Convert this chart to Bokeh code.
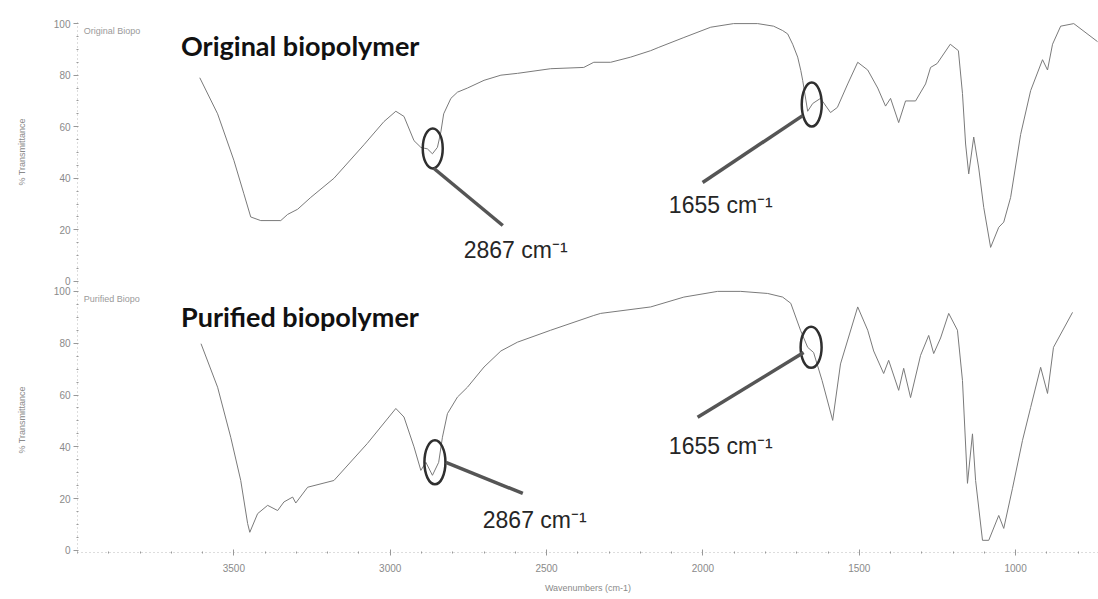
from bokeh.plotting import figure
from bokeh.layouts import column
from bokeh.models import Range1d, FixedTicker, Label
from bokeh.embed import file_html
from bokeh.resources import INLINE

# FTIR spectra: wavenumber (cm-1) and % transmittance
orig_wn = [3609, 3552, 3500, 3468, 3446, 3414, 3350, 3328, 3296, 3254, 3180, 3084, 3020,
           2982, 2956, 2924, 2902, 2881, 2865, 2849, 2838, 2829, 2806, 2785, 2753, 2700,
           2646, 2593, 2487, 2381, 2349, 2295, 2231, 2167, 2141, 2061, 1975, 1902, 1825,
           1774, 1745, 1729, 1713, 1697, 1687, 1681, 1665, 1649, 1624, 1592, 1570, 1537,
           1505, 1473, 1441, 1416, 1400, 1374, 1352, 1320, 1288, 1272, 1251, 1209, 1183,
           1170, 1160, 1150, 1134, 1118, 1102, 1080, 1054, 1038, 1016, 984, 952, 914, 898,
           882, 856, 814, 738]
orig_t = [79, 65, 47, 34, 25, 23.6, 23.6, 26, 28, 32.6, 40, 53, 62,
          66, 64, 54.6, 52, 51.4, 49.5, 52, 58, 65, 71, 73.4, 75, 78,
          80, 80.7, 82.5, 83, 85, 85, 87, 89.5, 90.8, 94.6, 98.6, 100, 100,
          99, 97.3, 96, 92, 87, 81.8, 78, 66, 69, 71, 65.5, 67.5, 76.6,
          85, 82, 75, 68, 71, 61.6, 70, 70, 76.6, 83, 84.5, 92, 89.5,
          72.9, 53.3, 41.7, 56, 44, 28.7, 13.2, 21, 23, 32.6, 57, 74, 86, 82,
          92, 99, 100, 93]

pur_wn = [3605, 3552, 3510, 3478, 3456, 3449, 3424, 3392, 3360, 3340, 3312, 3302, 3264,
          3180, 3073, 2982, 2956, 2924, 2902, 2886, 2865, 2845, 2833, 2817, 2785, 2753,
          2700, 2646, 2593, 2487, 2349, 2327, 2167, 2061, 1953, 1879, 1793, 1745, 1719,
          1688, 1665, 1646, 1619, 1585, 1560, 1505, 1473, 1454, 1422, 1406, 1374, 1358,
          1336, 1304, 1278, 1262, 1240, 1214, 1186, 1170, 1154, 1138, 1128, 1106, 1086,
          1054, 1038, 1010, 978, 952, 920, 898, 879, 818]
pur_t = [79.8, 63, 43.7, 27, 10.4, 7, 14.2, 17.4, 15.4, 18.7, 20.6, 18.3, 24.4,
         27, 41.3, 54.8, 51.5, 40, 30.9, 34, 29, 34, 43.7, 52.8, 59.2, 63,
         70.8, 77, 80.4, 85, 90.7, 91.5, 94, 97.8, 100, 100, 99.2, 97.8, 95.4,
         85, 78.4, 76.4, 65.6, 50.2, 72, 94, 85, 77, 68.3, 73.4, 61.8, 70.3,
         59, 75.3, 83, 76, 82, 91.5, 85, 65.6, 25.9, 45, 27, 3.9, 3.9,
         13.5, 8.5, 24, 42.5, 55.2, 70.7, 60.6, 78.4, 91.9]

y_ticks = [0, 20, 40, 60, 80, 100]
x_ticks = [3500, 3000, 2500, 2000, 1500, 1000]

# marked bands: (wavenumber, transmittance at the circled point)
orig_marks = [(2864, 51.6), (1652, 68.6)]
pur_marks = [(2857, 34.0), (1654, 78.4)]

GRAY = "#7a7a7a"
x_range = Range1d(start=4000, end=735)


def style_panel(p, tag):
    p.xgrid.visible = False
    p.ygrid.visible = False
    p.outline_line_color = None
    p.background_fill_color = "white"
    p.border_fill_color = "white"
    ax = p.yaxis[0]
    ax.ticker = FixedTicker(ticks=y_ticks, minor_ticks=list(range(0, 101, 5)))
    ax.axis_label = "% Transmittance"
    ax.axis_label_text_font = "Liberation Sans"
    ax.axis_label_text_font_size = "9px"
    ax.axis_label_text_font_style = "normal"
    ax.axis_label_text_color = "#8a8a8a"
    ax.axis_label_standoff = 24
    ax.major_label_text_font = "Liberation Sans"
    ax.major_label_text_font_size = "10px"
    ax.major_label_text_color = "#8a8a8a"
    ax.major_label_standoff = 3
    ax.axis_line_color = "#bbbbbb"
    ax.axis_line_dash = "1 3"
    ax.major_tick_line_color = "#999999"
    ax.major_tick_out = 4
    ax.major_tick_in = 0
    ax.minor_tick_line_color = "#999999"
    ax.minor_tick_out = 1
    ax.minor_tick_in = 1
    p.add_layout(Label(x=3980, y=97, text=tag, text_font="Liberation Sans",
                       text_font_size="9px", text_color="#9a9a9a",
                       text_baseline="middle"))


def mark(p, band, cx, cy, w, h, x0, y0, x1, y1, lx, ly):
    p.ellipse(x=[cx], y=[cy], width=w, height=h, width_units="screen",
              height_units="screen", fill_color=None, line_color="#2f2f2f",
              line_width=2.5)
    p.line(x=[x0, x1], y=[y0, y1], line_color="#555555", line_width=3.5)
    p.add_layout(Label(x=lx, y=ly, text="%d cm\u207b\u00b9" % band,
                       text_font="Liberation Sans", text_font_size="23px",
                       text_color="#262626", text_baseline="middle"))


top = figure(frame_width=1021, frame_height=263, min_border_left=77, min_border_right=0,
             min_border_top=20, min_border_bottom=3, x_range=x_range,
             y_range=Range1d(-0.8, 101.2), toolbar_location=None, output_backend="svg")
top.xaxis.visible = False
style_panel(top, "Original Biopo")
top.line(orig_wn, orig_t, line_color=GRAY, line_width=1)
top.add_layout(Label(x=3669, y=91.5, text="Original biopolymer", text_font="Lato",
                     text_font_size="27px", text_font_style="bold", text_color="#111111",
                     text_baseline="middle"))
mark(top, 2867, orig_marks[0][0], orig_marks[0][1], 20, 40, 2861, 43.9, 2640, 21.7, 2765, 12)
mark(top, 1655, orig_marks[1][0], orig_marks[1][1], 20, 44, 1681, 64.3, 2001, 38.4, 2109, 29.5)

bot = figure(frame_width=1021, frame_height=265, min_border_left=77, min_border_right=0,
             min_border_top=1, min_border_bottom=0, x_range=x_range,
             y_range=Range1d(-0.8, 101.5), toolbar_location=None, output_backend="svg")
style_panel(bot, "Purified Biopo")
xa = bot.xaxis[0]
xa.ticker = FixedTicker(ticks=x_ticks, minor_ticks=list(range(800, 4001, 100)))
xa.axis_label = "Wavenumbers (cm-1)"
xa.axis_label_text_font = "Liberation Sans"
xa.axis_label_text_font_size = "9px"
xa.axis_label_text_font_style = "normal"
xa.axis_label_text_color = "#8a8a8a"
xa.axis_label_standoff = 8
xa.major_label_text_font = "Liberation Sans"
xa.major_label_text_font_size = "10px"
xa.major_label_text_color = "#8a8a8a"
xa.major_label_standoff = 8
xa.axis_line_color = "#bbbbbb"
xa.axis_line_dash = "1 3"
xa.major_tick_line_color = "#999999"
xa.major_tick_out = 3
xa.major_tick_in = 3
xa.minor_tick_line_color = "#999999"
xa.minor_tick_out = 1
xa.minor_tick_in = 1
bot.line(pur_wn, pur_t, line_color=GRAY, line_width=1)
bot.add_layout(Label(x=3669, y=90.3, text="Purified biopolymer", text_font="Lato",
                     text_font_size="27px", text_font_style="bold", text_color="#111111",
                     text_baseline="middle"))
mark(bot, 2867, pur_marks[0][0], pur_marks[0][1], 21, 44, 2822, 34, 2576, 22, 2704, 11.6)
mark(bot, 1655, pur_marks[1][0], pur_marks[1][1], 21, 41, 1678, 76.4, 2017, 51.4, 2109, 40.5)

layout = column(top, bot, spacing=0)
open("out.html", "w").write(file_html(layout, INLINE))
